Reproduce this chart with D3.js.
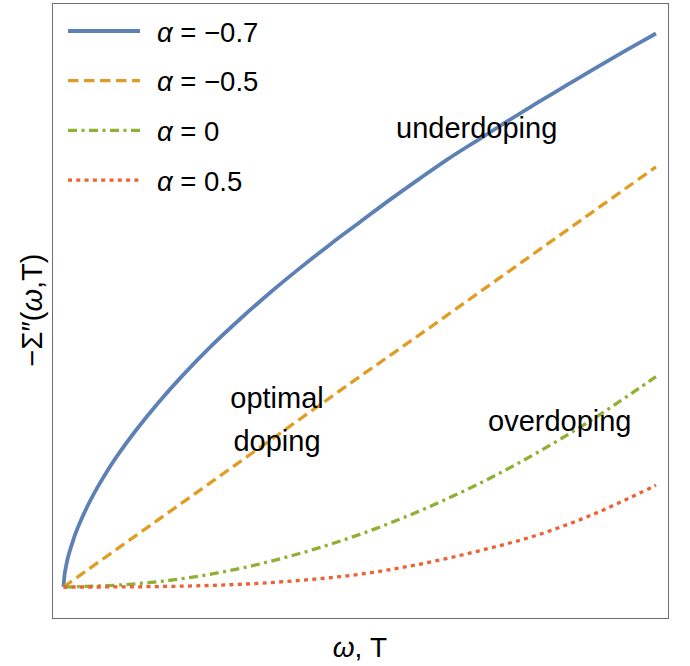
<!DOCTYPE html>
<html>
<head>
<meta charset="utf-8">
<script src="https://cdn.jsdelivr.net/npm/d3@7"></script>
<style>
  body { margin: 0; background: #fff; }
  text { font-family: "Liberation Sans", Arial, sans-serif; fill: #000; }
</style>
</head>
<body>
<script>
// omega,T (normalised) and -Sigma''
var tBlue = [0, 0.002, 0.004, 0.007, 0.01, 0.015, 0.02, 0.03, 0.04, 0.05, 0.06, 0.07, 0.09, 0.12, 0.16, 0.2, 0.25, 0.3, 0.35, 0.4, 0.45, 0.5, 0.55, 0.6, 0.65, 0.7, 0.75, 0.8, 0.85, 0.9, 0.95, 1]
var vBlue = [0, 0.024, 0.036, 0.051, 0.063, 0.080, 0.096, 0.122, 0.145, 0.166, 0.185, 0.203, 0.236, 0.280, 0.333, 0.381, 0.436, 0.486, 0.533, 0.577, 0.619, 0.659, 0.699, 0.737, 0.774, 0.808, 0.842, 0.875, 0.907, 0.939, 0.970, 1]
var tOther = [0, 0.1, 0.2, 0.3, 0.4, 0.5, 0.6, 0.7, 0.8, 0.9, 1]
var vOrange = [0, 0.076, 0.152, 0.228, 0.304, 0.380, 0.455, 0.531, 0.607, 0.683, 0.759]
var vGreen = [0, 0.004, 0.015, 0.034, 0.061, 0.095, 0.137, 0.186, 0.243, 0.308, 0.380]
var vRed = [0, 0.0002, 0.0015, 0.005, 0.012, 0.023, 0.041, 0.065, 0.094, 0.134, 0.184]
var legendLabels = ["\u22120.7", "\u22120.5", "0", "0.5"]

var series = [
  { t: tBlue, v: vBlue, color: "#5E81B5", dash: null, w: 3.8 },
  { t: tOther, v: vOrange, color: "#E19C24", dash: "10.5,5.5", w: 3.3 },
  { t: tOther, v: vGreen, color: "#8FB032", dash: "9,4.5,3,4.5", w: 3.3 },
  { t: tOther, v: vRed, color: "#EB6235", dash: "4,4.3", w: 3.3 }
]

var W = 690, H = 666
var frame = { left: 52, right: 668, top: 3, bottom: 618 }

var svg = d3.select("body").append("svg")
    .attr("width", W)
    .attr("height", H)

var x = d3.scaleLinear().domain([0, 1]).range([63.5, 656])
var y = d3.scaleLinear().domain([0, 1]).range([587, 33.5])

svg.append("rect")
    .attr("x", frame.left + 0.5)
    .attr("y", frame.top + 0.5)
    .attr("width", frame.right - frame.left)
    .attr("height", frame.bottom - frame.top)
    .attr("fill", "none")
    .attr("stroke", "#6e6e6e")
    .attr("stroke-width", 1)

var line = d3.line()
    .x(function (d) { return x(d[0]) })
    .y(function (d) { return y(d[1]) })
    .curve(d3.curveCatmullRom.alpha(0.5))

series.forEach(function (s) {
  var pts = s.t.map(function (t, i) { return [t, s.v[i]] })
  svg.append("path")
      .datum(pts)
      .attr("d", line)
      .attr("fill", "none")
      .attr("stroke", s.color)
      .attr("stroke-width", s.w)
      .attr("stroke-dasharray", s.dash)
})

// legend
var leg = svg.append("g")
series.forEach(function (s, i) {
  var ly = 31 + i * 49.7
  leg.append("line")
      .attr("x1", 68).attr("x2", 140)
      .attr("y1", ly).attr("y2", ly)
      .attr("stroke", s.color)
      .attr("stroke-width", s.w)
      .attr("stroke-dasharray", s.dash)
  var t = leg.append("text")
      .attr("x", 157)
      .attr("y", ly + 10.5)
      .style("font-size", "27.5px")
  t.append("tspan").style("font-style", "italic").text("\u03B1")
  t.append("tspan").text(" = " + legendLabels[i])
})

// annotations
svg.append("text").attr("x", 396).attr("y", 138)
    .style("font-size", "29px").text("underdoping")
svg.append("text").attr("x", 277).attr("y", 408)
    .style("font-size", "29px").style("text-anchor", "middle").text("optimal")
svg.append("text").attr("x", 277).attr("y", 451)
    .style("font-size", "29px").style("text-anchor", "middle").text("doping")
svg.append("text").attr("x", 488).attr("y", 431)
    .style("font-size", "29px").text("overdoping")

// axis labels
var xl = svg.append("text")
    .attr("x", 360).attr("y", 657)
    .style("font-size", "28px").style("text-anchor", "middle")
xl.append("tspan").style("font-style", "italic").text("\u03C9")
xl.append("tspan").text(", T")

var yl = svg.append("text")
    .attr("transform", "translate(42,310) rotate(-90)")
    .style("font-size", "29px").style("text-anchor", "middle")
yl.append("tspan").text("\u2212\u03A3\u2033(")
yl.append("tspan").style("font-style", "italic").text("\u03C9")
yl.append("tspan").text(",T)")
</script>
</body>
</html>
